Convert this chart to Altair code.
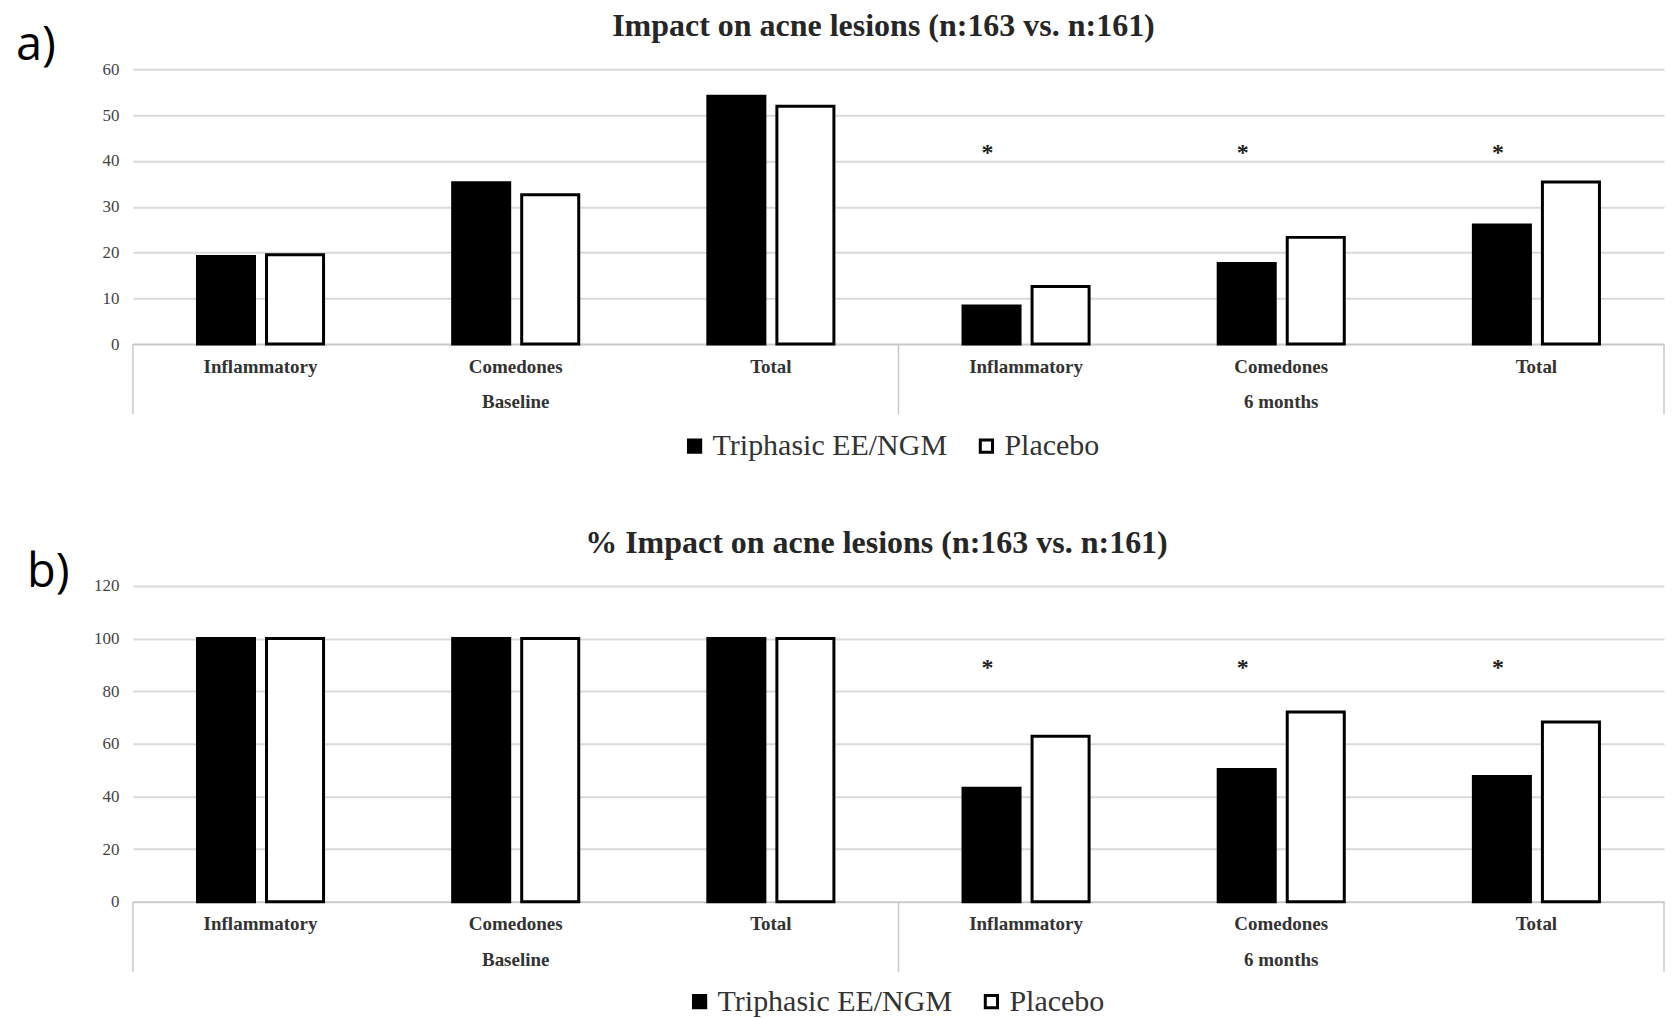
import altair as alt
import pandas as pd

groups = ["Baseline", "6 months"]
categories = ["Inflammatory", "Comedones", "Total"]
series = ["Triphasic EE/NGM", "Placebo"]

# Panel a: number of lesions (Baseline x3, 6 months x3)
a_triphasic = [19.1, 35.2, 54.1, 8.3, 17.6, 26.0]
a_placebo = [19.5, 32.6, 51.9, 12.6, 23.3, 35.4]
# Panel b: % of baseline lesions
b_triphasic = [100, 100, 100, 43.1, 50.3, 47.6]
b_placebo = [100, 100, 100, 62.9, 72.1, 68.3]

a_title = "Impact  on acne lesions  (n:163 vs. n:161)"
b_title = "% Impact on acne lesions  (n:163 vs. n:161)"
a_ticks = [0, 10, 20, 30, 40, 50, 60]
b_ticks = [0, 20, 40, 60, 80, 100, 120]
a_star = 43
b_star = 91
significant_group = "6 months"

SERIF = "Liberation Serif"
WIDTH = 1532
keys = [f"{g}|{c}" for g in groups for c in categories]


def panel(tri, pla, ticks, title, star_level, label, height, label_xy, legend_xy, title_dx):
    df = pd.DataFrame({
        "key": keys * 2,
        "series": [series[0]] * len(keys) + [series[1]] * len(keys),
        "value": tri + pla,
    })
    xscale = alt.Scale(domain=keys, paddingInner=0, paddingOuter=0)
    xoff = alt.XOffset("series:N", sort=series,
                       scale=alt.Scale(domain=series, paddingInner=0.174, paddingOuter=0.935))
    yscale = alt.Scale(domain=[ticks[0], ticks[-1]], nice=False)

    bars = alt.Chart(df).mark_bar(stroke="black", strokeWidth=3).encode(
        x=alt.X("key:N", sort=keys, scale=xscale,
                axis=alt.Axis(title=None, labelExpr="split(datum.label, '|')[1]", labelAngle=0,
                              ticks=False, domainColor="#c8c8c8", domainWidth=1.5,
                              labelFont=SERIF, labelFontWeight="bold", labelFontSize=19,
                              labelColor="#333333", labelPadding=13, grid=False)),
        xOffset=xoff,
        y=alt.Y("value:Q", scale=yscale,
                axis=alt.Axis(title=None, values=ticks, domain=False, ticks=False,
                              labelFont=SERIF, labelFontSize=17, labelColor="#444444",
                              labelPadding=14, gridColor="#d9d9d9", gridWidth=2)),
        color=alt.Color("series:N", sort=series,
                        scale=alt.Scale(domain=series, range=["black", "white"]),
                        legend=alt.Legend(title=None, orient="none", direction="horizontal",
                                          legendX=legend_xy[0], legendY=legend_xy[1],
                                          symbolType="square", symbolSize=150,
                                          symbolStrokeColor="black", symbolStrokeWidth=3,
                                          labelFont=SERIF, labelFontSize=30, labelColor="#333333",
                                          labelOffset=3, columnPadding=24, labelLimit=400)),
    )

    stars_df = pd.DataFrame({"key": [k for k in keys if k.startswith(significant_group)],
                             "series": series[0], "value": star_level, "mark": "*"})
    stars = alt.Chart(stars_df).mark_text(font=SERIF, fontSize=24, fontWeight="bold",
                                          color="#222222", baseline="middle", dy=6, dx=-4).encode(
        x=alt.X("key:N", sort=keys, scale=xscale), xOffset=xoff,
        y=alt.Y("value:Q", scale=yscale), text="mark:N")

    grp_df = pd.DataFrame({"key": [f"{g}|{categories[1]}" for g in groups], "group": groups})
    grp = alt.Chart(grp_df).mark_text(font=SERIF, fontSize=19, fontWeight="bold",
                                      color="#333333", baseline="middle").encode(
        x=alt.X("key:N", sort=keys, scale=xscale),
        y=alt.value(height + 58), text="group:N")

    sep_left = pd.DataFrame({"key": [f"{g}|{categories[0]}" for g in groups]})
    sep_right = pd.DataFrame({"key": [f"{groups[-1]}|{categories[-1]}"]})
    sepl = alt.Chart(sep_left).mark_rule(color="#c8c8c8", strokeWidth=1.5).encode(
        x=alt.X("key:N", sort=keys, scale=xscale, bandPosition=0),
        y=alt.value(height), y2=alt.value(height + 70))
    sepr = alt.Chart(sep_right).mark_rule(color="#c8c8c8", strokeWidth=1.5).encode(
        x=alt.X("key:N", sort=keys, scale=xscale, bandPosition=1),
        y=alt.value(height), y2=alt.value(height + 70))

    lab = alt.Chart(pd.DataFrame({"t": [label]})).mark_text(
        font="Open Sans", fontSize=47, align="left", baseline="middle", color="black").encode(
        x=alt.value(label_xy[0]), y=alt.value(label_xy[1]), text="t:N")

    ttl = alt.Chart(pd.DataFrame({"t": [title]})).mark_text(
        font=SERIF, fontSize=32, fontWeight="bold", color="#262626",
        align="center", baseline="middle").encode(
        x=alt.value(WIDTH / 2 + title_dx), y=alt.value(-43), text="t:N")

    return alt.layer(bars, stars, sepl, sepr, grp, lab, ttl).properties(
        width=WIDTH, height=height)


pa = panel(a_triphasic, a_placebo, a_ticks, a_title, a_star, "a)", 275, (-117, -23), (547, 362), -15)
pb = panel(b_triphasic, b_placebo, b_ticks, b_title, b_star, "b)", 316, (-106, -13), (552, 401), -22)

chart = alt.vconcat(pa, pb, spacing=66).resolve_scale(
    color="independent", x="independent", y="independent", xOffset="independent"
).resolve_legend(color="independent").properties(
    padding={"left": 8, "top": 2, "right": 0, "bottom": 0}, background="white"
).configure_view(stroke=None)

chart.save("out.html", embed_options={"renderer": "svg", "actions": False})
